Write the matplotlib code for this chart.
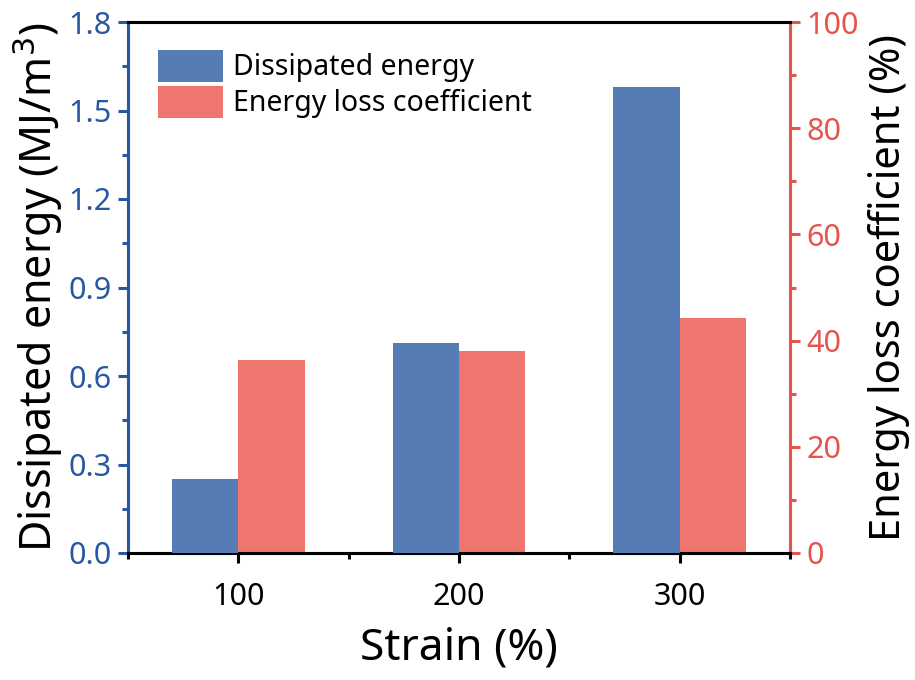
import matplotlib
matplotlib.use("Agg")
import matplotlib.pyplot as plt
import numpy as np
from matplotlib.ticker import MultipleLocator

plt.rcParams['font.family'] = ['Noto Sans', 'DejaVu Sans']

categories = ["100", "200", "300"]
dissipated = [0.25, 0.712, 1.58]
loss_coef = [36.3, 38.0, 44.3]

blue = "#557CB5"
red = "#EE766F"
axblue = "#2857A4"
axred = "#E5554E"

fig = plt.figure(figsize=(9.15, 6.8), dpi=100)
ax = fig.add_axes([128/915, 1-553/680, (790-128)/915, (553-22)/680])
ax2 = ax.twinx()

x = np.arange(1, len(categories)+1)
w = 0.3
b1 = ax.bar(x - w/2, dissipated, w, color=blue, label="Dissipated energy", zorder=3)
b2 = ax2.bar(x + w/2, loss_coef, w, color=red, label="Energy loss coefficient", zorder=3)

ax.set_xlim(0.5, 3.5)
ax.set_ylim(0, 1.8)
ax2.set_ylim(0, 100)
ax.set_xticks(x)
ax.set_xticklabels(categories)
ax.set_xticks([0.5, 1.5, 2.5, 3.5], minor=True)
ax.yaxis.set_major_locator(MultipleLocator(0.3))
ax.yaxis.set_minor_locator(MultipleLocator(0.15))
ax2.yaxis.set_major_locator(MultipleLocator(20))
ax2.yaxis.set_minor_locator(MultipleLocator(10))
ax.yaxis.set_major_formatter(matplotlib.ticker.FormatStrFormatter('%.1f'))

lw = 2.2
for a in (ax, ax2):
    for s in a.spines.values():
        s.set_linewidth(lw)
    a.spines['top'].set_color('black')
    a.spines['bottom'].set_color('black')
    a.spines['left'].set_color(axblue)
    a.spines['right'].set_color(axred)

ax.tick_params(axis='y', which='major', length=7, width=lw, color=axblue, labelcolor=axblue, labelsize=22, pad=5)
ax.tick_params(axis='y', which='minor', length=4, width=lw, color=axblue)
ax.tick_params(axis='x', which='major', length=7, width=lw, color='black', labelsize=22, pad=14)
ax.tick_params(axis='x', which='minor', length=4, width=lw, color='black')
ax2.tick_params(axis='y', which='major', length=7, width=lw, color=axred, labelcolor=axred, labelsize=22, pad=5)
ax2.tick_params(axis='y', which='minor', length=4, width=lw, color=axred)

ax.set_xlabel("Strain (%)", fontsize=32, labelpad=10)
ax.set_ylabel("Dissipated energy (MJ/m$^3$)", fontsize=31, labelpad=2)
ax2.set_ylabel("Energy loss coefficient (%)", fontsize=30, labelpad=6)

ax.set_zorder(ax2.get_zorder() + 1)
ax.patch.set_visible(False)

leg = ax.legend([b1, b2], ["Dissipated energy", "Energy loss coefficient"],
                loc='upper left', bbox_to_anchor=(158/915, 1-50/680),
                bbox_transform=fig.transFigure, frameon=False, fontsize=20.5,
                handlelength=2.3, handleheight=1.35, labelspacing=0.12,
                handletextpad=0.35, borderpad=0, borderaxespad=0)

fig.savefig("out.png", dpi=100)
